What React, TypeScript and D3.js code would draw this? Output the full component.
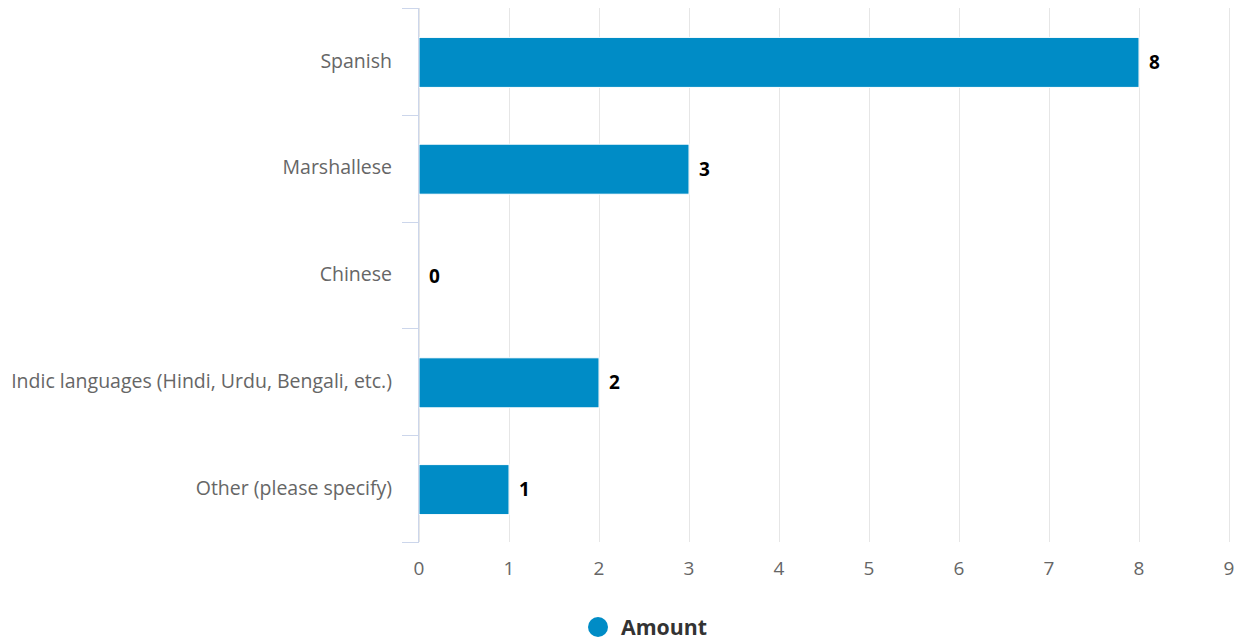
import React from "react";
import * as d3 from "d3";

const categories = ["Spanish", "Marshallese", "Chinese", "Indic languages (Hindi, Urdu, Bengali, etc.)", "Other (please specify)"];
const values = [8, 3, 0, 2, 1];
const xTicks = [0, 1, 2, 3, 4, 5, 6, 7, 8, 9];
const seriesName = "Amount";

const W = 1244, H = 640;
const left = 419, right = 1229, top = 8, bottom = 542;
const FONT = "'Open Sans', sans-serif";
const BAR = "#008cc6";

export default function App() {
  const x = d3.scaleLinear().domain([0, 9]).range([left, right]);
  const y = d3.scaleBand<string>().domain(categories).range([top, bottom]).paddingInner(0).paddingOuter(0);
  const bw = y.bandwidth();
  const barH = 50;
  const edges = categories.map((c) => y(c)!).concat([bottom]);
  return (
    <svg width={W} height={H} style={{ position: "absolute", left: 0, top: 0, fontFamily: FONT }}>
      <rect width={W} height={H} fill="#fff" />
      {xTicks.map((t) => (
        <line key={"g" + t} x1={Math.round(x(t)) + 0.5} x2={Math.round(x(t)) + 0.5} y1={top} y2={bottom} stroke="#e6e6e6" strokeWidth={1} />
      ))}
      {categories.map((c, i) => {
        const cy = y(c)! + bw / 2;
        return (
          <g key={c}>
            {values[i] > 0 && (
              <rect x={x(0)} y={cy - barH / 2 + 1} width={x(values[i]) - x(0)} height={barH} fill={BAR} stroke="#fff" strokeWidth={1} />
            )}
            <text x={392} y={cy + 1} textAnchor="end" dominantBaseline="middle" fontSize={19.5} fill="#666">{c}</text>
            <text x={x(values[i]) + 10} y={cy + 2.5} dominantBaseline="middle" fontSize={19} fontWeight="bold" fill="#000" stroke="#fff" strokeWidth={2} paintOrder="stroke">{values[i]}</text>
          </g>
        );
      })}
      <line x1={418.5} x2={418.5} y1={top} y2={bottom} stroke="#ccd6eb" strokeWidth={1} />
      {edges.map((e, i) => (
        <line key={"t" + i} x1={402} x2={419} y1={Math.round(e) + 0.5} y2={Math.round(e) + 0.5} stroke="#ccd6eb" strokeWidth={1} />
      ))}
      {xTicks.map((t) => (
        <text key={"l" + t} x={x(t)} y={575} textAnchor="middle" fontSize={19} fill="#666">{t}</text>
      ))}
      <circle cx={598} cy={627} r={10} fill={BAR} />
      <text x={621} y={629} dominantBaseline="middle" fontSize={21.3} fontWeight="bold" fill="#333">{seriesName}</text>
    </svg>
  );
}
